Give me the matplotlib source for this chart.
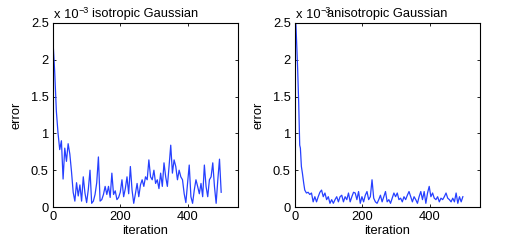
import matplotlib
matplotlib.use("Agg")
import matplotlib.pyplot as plt

plt.rcParams['font.family'] = ['Liberation Sans', 'DejaVu Sans']

# errors in units of 1e-3
iso_iter = [0, 5, 10, 15, 20, 25, 30, 35, 40, 45, 50, 55, 60, 65, 70, 75, 80, 85, 90, 95,
            100, 105, 110, 115, 120, 125, 130, 135, 140, 145, 150, 155, 160, 165, 170, 175, 180, 185, 190, 195,
            200, 205, 210, 215, 220, 225, 230, 235, 240, 245, 250, 255, 260, 265, 270, 275, 280, 285, 290, 295,
            300, 305, 310, 315, 320, 325, 330, 335, 340, 345, 350, 355, 360, 365, 370, 375, 380, 385, 390, 395,
            400, 405, 410, 415, 420, 425, 430, 435, 440, 445, 450, 455, 460, 465, 470, 475, 480, 485, 490, 495, 500]
iso_err = [2.25, 1.84, 1.3, 1.0, 0.78, 0.9, 0.38, 0.8, 0.62, 0.86, 0.72, 0.48, 0.2, 0.08, 0.33, 0.15, 0.3, 0.08, 0.41, 0.19,
           0.06, 0.24, 0.5, 0.05, 0.08, 0.17, 0.33, 0.68, 0.08, 0.1, 0.17, 0.28, 0.17, 0.28, 0.13, 0.46, 0.17, 0.22, 0.1, 0.13,
           0.2, 0.37, 0.14, 0.25, 0.41, 0.18, 0.55, 0.23, 0.05, 0.18, 0.32, 0.14, 0.3, 0.37, 0.28, 0.41, 0.37, 0.64, 0.41, 0.37,
           0.5, 0.32, 0.37, 0.25, 0.46, 0.28, 0.6, 0.41, 0.28, 0.55, 0.84, 0.46, 0.64, 0.55, 0.37, 0.5, 0.41, 0.37, 0.18, 0.06,
           0.32, 0.57, 0.14, 0.05, 0.23, 0.37, 0.28, 0.18, 0.32, 0.14, 0.57, 0.28, 0.14, 0.37, 0.41, 0.6, 0.28, 0.05, 0.37, 0.65, 0.2]

aniso_iter = [0, 3, 6, 8, 11, 14, 16, 19, 22, 26, 29,
              34, 39, 44, 49, 54, 59, 64, 69, 74, 79, 84, 89, 94, 99, 104, 109, 114, 119, 124, 129, 134, 139, 144,
              149, 154, 159, 164, 169, 174, 179, 184, 189, 194, 199, 204, 209, 214, 219, 224, 229, 234, 239, 244,
              249, 254, 259, 264, 269, 274, 279, 284, 289, 294, 299, 304, 309, 314, 319, 324, 329, 334, 339, 344,
              349, 354, 359, 364, 369, 374, 379, 384, 389, 394, 399, 404, 409, 414, 419, 424, 429, 434, 439, 444,
              449, 454, 459, 464, 469, 474, 479, 484, 489, 494, 499]
aniso_err = [2.7, 2.45, 2.1, 1.86, 1.41, 0.84, 0.8, 0.55, 0.46, 0.32, 0.23,
             0.19, 0.2, 0.17, 0.19, 0.07, 0.14, 0.07, 0.14, 0.2, 0.23, 0.14, 0.19, 0.1, 0.14, 0.05, 0.1, 0.05, 0.1, 0.14,
             0.07, 0.14, 0.16, 0.07, 0.14, 0.1, 0.19, 0.07, 0.14, 0.2, 0.19, 0.1, 0.21, 0.05, 0.14, 0.07, 0.16, 0.21,
             0.1, 0.14, 0.37, 0.12, 0.07, 0.05, 0.1, 0.16, 0.07, 0.14, 0.21, 0.07, 0.1, 0.05, 0.12, 0.19, 0.14, 0.19,
             0.1, 0.12, 0.07, 0.14, 0.1, 0.16, 0.21, 0.14, 0.07, 0.14, 0.1, 0.05, 0.14, 0.21, 0.1, 0.21, 0.05, 0.19,
             0.28, 0.14, 0.19, 0.12, 0.1, 0.14, 0.07, 0.12, 0.1, 0.14, 0.19, 0.12, 0.1, 0.07, 0.12, 0.07, 0.19, 0.05,
             0.14, 0.07, 0.14]

titles = ["isotropic Gaussian", "anisotropic Gaussian"]
xticks = [0, 200, 400]
yticks = [0, 0.5, 1, 1.5, 2, 2.5]
yticklabels = ["0", "0.5", "1", "1.5", "2", "2.5"]

fig = plt.figure(figsize=(5.14, 2.41), dpi=100)
W, H = 514, 241
boxes = [(53, 23, 238, 207), (295, 23, 480, 207)]
series = [(iso_iter, iso_err), (aniso_iter, aniso_err)]
FS = 9.3

for (x0, y0, x1, y1), (xs, ys), title in zip(boxes, series, titles):
    ax = fig.add_axes([x0 / W, 1 - y1 / H, (x1 - x0) / W, (y1 - y0) / H])
    ax.plot(xs, ys, color=(0.15, 0.25, 1.0), lw=0.9)
    ax.set_xlim(0, 550)
    ax.set_ylim(0, 2.5)
    ax.set_xticks(xticks)
    ax.set_yticks(yticks)
    ax.set_yticklabels(yticklabels)
    ax.tick_params(direction='in', length=2.5, width=0.6, top=True, right=True,
                   labelsize=FS, pad=3)
    for s in ax.spines.values():
        s.set_linewidth(0.8)
    ax.set_xlabel("iteration", fontsize=FS, labelpad=1)
    ax.set_ylabel("error", fontsize=FS, labelpad=6)
    ax.set_title(title, fontsize=FS, pad=4)
    ax.annotate("x 10", xy=(0.0, 1.0), xycoords='axes fraction',
                xytext=(0.5, 1.5), textcoords='offset points',
                fontsize=FS, ha='left', va='bottom')
    ax.annotate("\u22123", xy=(0.0, 1.0), xycoords='axes fraction',
                xytext=(18.3, 6.0), textcoords='offset points',
                fontsize=6.5, ha='left', va='bottom')

fig.savefig("out.png", dpi=100)
